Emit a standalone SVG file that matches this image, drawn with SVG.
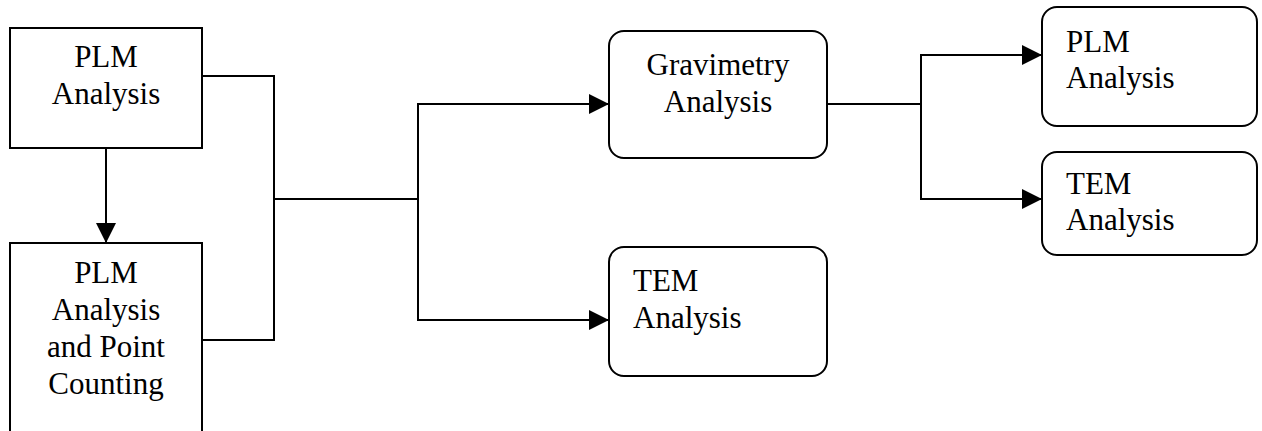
<svg xmlns="http://www.w3.org/2000/svg" width="1262" height="431" viewBox="0 0 1262 431">
<style>
.box{fill:#fff;stroke:#000;stroke-width:2}
.t{font-family:'Liberation Serif','Times New Roman','DejaVu Serif',serif;font-size:31px;fill:#000}
.c{text-anchor:middle}
.ln{fill:none;stroke:#000;stroke-width:2}
</style>
<defs>
<marker id="ah" markerUnits="userSpaceOnUse" markerWidth="20" markerHeight="20" refX="20" refY="10" orient="auto">
<path d="M0,0 L20,10 L0,20 Z" fill="#000"/>
</marker>
</defs>
<rect width="1262" height="431" fill="#fff"/>
<g id="connectors">
<path class="ln" d="M202,76 H274 V340 H202"/>
<path class="ln" d="M274,199 H418"/>
<path class="ln" d="M418,320 V104 H609" marker-end="url(#ah)"/>
<path class="ln" d="M418,200 V320 H609" marker-end="url(#ah)"/>
<path class="ln" d="M106,148 V243" marker-end="url(#ah)"/>
<path class="ln" d="M827,104 H921"/>
<path class="ln" d="M921,104 V55 H1042" marker-end="url(#ah)"/>
<path class="ln" d="M921,104 V199 H1042" marker-end="url(#ah)"/>
</g>
<g id="plm1">
<rect class="box" x="10" y="28" width="192" height="120"/>
<text class="t c" x="106" y="67">PLM</text>
<text class="t c" x="106" y="104">Analysis</text>
</g>
<g id="plm2">
<rect class="box" x="10" y="243" width="192" height="200"/>
<text class="t c" x="106" y="283">PLM</text>
<text class="t c" x="106" y="320">Analysis</text>
<text class="t c" x="106" y="357">and Point</text>
<text class="t c" x="106" y="394">Counting</text>
</g>
<g id="grav">
<rect class="box" x="609" y="31" width="218" height="127" rx="15"/>
<text class="t c" x="718" y="75">Gravimetry</text>
<text class="t c" x="718" y="112">Analysis</text>
</g>
<g id="tem1">
<rect class="box" x="609" y="247" width="218" height="129" rx="15"/>
<text class="t" x="633" y="291">TEM</text>
<text class="t" x="633" y="328">Analysis</text>
</g>
<g id="plm3">
<rect class="box" x="1042" y="7" width="215" height="119" rx="15"/>
<text class="t" x="1066" y="52">PLM</text>
<text class="t" x="1066" y="88">Analysis</text>
</g>
<g id="tem2">
<rect class="box" x="1042" y="152" width="215" height="103" rx="15"/>
<text class="t" x="1066" y="194">TEM</text>
<text class="t" x="1066" y="230">Analysis</text>
</g>
</svg>
